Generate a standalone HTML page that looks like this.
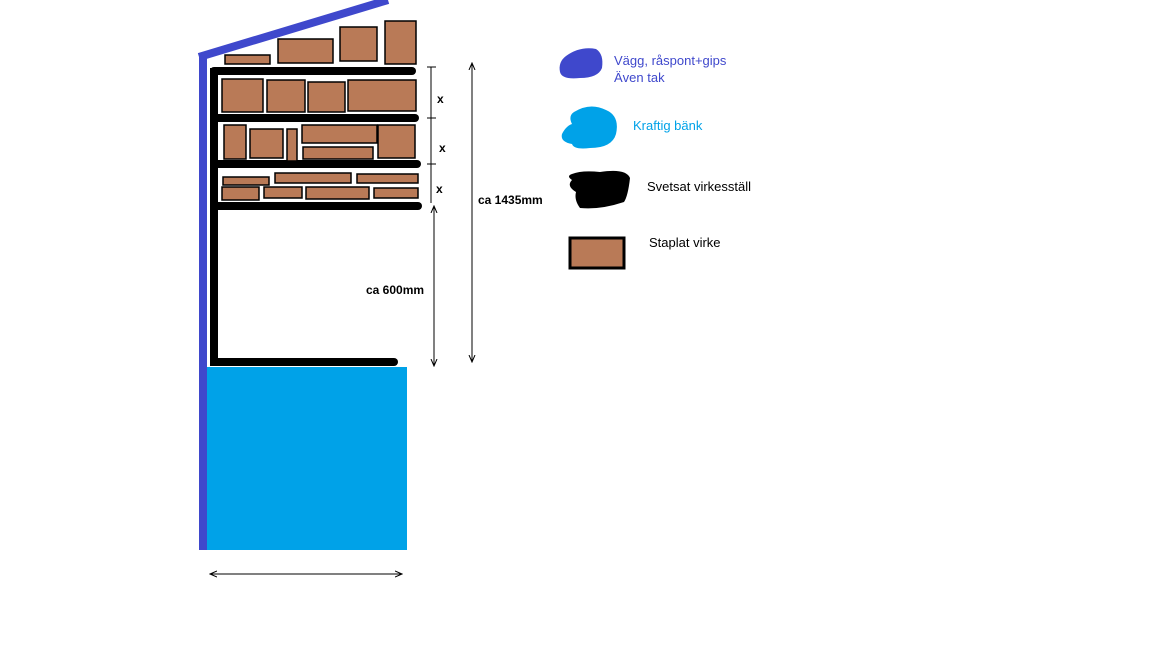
<!DOCTYPE html>
<html><head><meta charset="utf-8"><style>html,body{margin:0;padding:0;background:#fff}svg{display:block}text{font-family:"Liberation Sans",sans-serif}</style></head><body>
<svg width="1152" height="648" viewBox="0 0 1152 648" xmlns="http://www.w3.org/2000/svg">
<defs><marker id="a" markerWidth="8" markerHeight="8" refX="7" refY="4" orient="auto-start-reverse"><path d="M0,1 L7,4 L0,7" fill="none" stroke="#000" stroke-width="1"/></marker></defs>
<rect x="199" y="54" width="8" height="496" fill="#3f48cc"/>
<path d="M199,57 L388,0" stroke="#3f48cc" stroke-width="8"/>
<rect x="207" y="367" width="200" height="183" fill="#00a2e8"/>
<g fill="#000">
<rect x="210" y="68" width="8" height="298"/>
<rect x="210" y="67" width="206" height="8" rx="4"/>
<rect x="210" y="114" width="209" height="8" rx="4"/>
<rect x="210" y="160" width="211" height="8" rx="4"/>
<rect x="210" y="202" width="212" height="8" rx="4"/>
<rect x="210" y="358" width="188" height="8" rx="4"/>
</g>
<g fill="#b97a57" stroke="#000" stroke-width="1.5">
<rect x="225" y="55" width="45" height="9"/><rect x="278" y="39" width="55" height="24"/><rect x="340" y="27" width="37" height="34"/><rect x="385" y="21" width="31" height="43"/>
<rect x="222" y="79" width="41" height="33"/><rect x="267" y="80" width="38" height="32"/><rect x="308" y="82" width="37" height="30"/><rect x="348" y="80" width="68" height="31"/>
<rect x="224" y="125" width="22" height="34"/><rect x="250" y="129" width="33" height="29"/><rect x="287" y="129" width="10" height="32"/><rect x="302" y="125" width="75" height="18"/><rect x="378" y="125" width="37" height="33"/><rect x="303" y="147" width="70" height="12"/>
<rect x="223" y="177" width="46" height="8"/><rect x="275" y="173" width="76" height="10"/><rect x="357" y="174" width="61" height="9"/><rect x="222" y="187" width="37" height="13"/><rect x="264" y="187" width="38" height="11"/><rect x="306" y="187" width="63" height="12"/><rect x="374" y="188" width="44" height="10"/>
</g>
<g stroke="#000" stroke-width="1" fill="none">
<line x1="431" y1="67" x2="431" y2="203"/>
<line x1="427" y1="67" x2="436" y2="67"/><line x1="427" y1="118" x2="436" y2="118"/><line x1="427" y1="164" x2="436" y2="164"/>
<line x1="434" y1="206" x2="434" y2="366" marker-start="url(#a)" marker-end="url(#a)"/>
<line x1="472" y1="63" x2="472" y2="362" marker-start="url(#a)" marker-end="url(#a)"/>
<line x1="210" y1="574" x2="402" y2="574" marker-start="url(#a)" marker-end="url(#a)"/>
</g>
<g font-size="12" font-weight="bold" fill="#000">
<text x="437" y="103">x</text><text x="439" y="152">x</text><text x="436" y="193">x</text>
<text x="478" y="204">ca 1435mm</text><text x="366" y="294">ca 600mm</text>
</g>
<path d="M566,56 Q580,46 596,49 Q604,54 602,68 Q598,78 580,78 Q562,80 560,72 Q558,62 566,56Z" fill="#3f48cc"/>
<path d="M574,112 Q590,102 606,110 Q620,116 616,134 Q612,148 590,148 Q574,150 572,144 Q560,142 562,134 Q566,126 572,124 Q568,116 574,112Z" fill="#00a2e8"/>
<path d="M572,174 Q582,170 600,172 Q626,168 630,178 Q628,196 624,202 Q600,210 580,208 Q574,200 576,192 Q566,186 572,180 Q566,176 572,174Z" fill="#000"/>
<rect x="570" y="238" width="54" height="30" fill="#b97a57" stroke="#000" stroke-width="3"/>
<g font-size="13">
<text x="614" y="65" fill="#3f48cc">Vägg, råspont+gips</text>
<text x="614" y="82" fill="#3f48cc">Även tak</text>
<text x="633" y="130" fill="#00a2e8">Kraftig bänk</text>
<text x="647" y="191" fill="#000">Svetsat virkesställ</text>
<text x="649" y="247" fill="#000">Staplat virke</text>
</g>
</svg>
</body></html>
